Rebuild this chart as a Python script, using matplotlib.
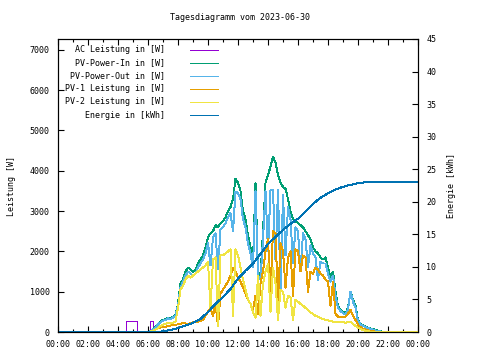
import numpy as np
import matplotlib
matplotlib.use("Agg")
import matplotlib.pyplot as plt

# 10-minute samples from 06:00 to 22:00
t_start, t_step = 6.0, 1 / 6

pv_in = [0, 20, 60, 120, 200, 260,
         300, 320, 360, 330, 380, 420,
         700, 1200, 1300, 1500, 1600, 1550,
         1500, 1550, 1700, 1800, 1900, 2100,
         2350, 2450, 2500, 2650, 2600, 2700,
         2750, 2850, 3000, 3100, 3300, 3800,
         3700, 3500, 3000, 2800, 2400, 2100,
         1750, 3700, 1500, 1400, 2500, 3700,
         3900, 4100, 4350, 4200, 3900, 3700,
         3600, 3550, 3300, 3000, 2800, 2750,
         2700, 2650, 2600, 2500, 2400, 2300,
         2100, 2000, 1950, 1850, 1800, 1850,
         1600, 1350, 1500, 1000, 640, 550,
         500, 460, 600, 1000, 800, 650,
         300, 200, 160, 130, 110, 90,
         70, 50, 30, 15, 5, 0,
         0]

pv_out = [0, 20, 60, 110, 190, 240,
          280, 300, 340, 310, 360, 400,
          650, 1100, 1250, 1400, 1500, 1450,
          1400, 1450, 1600, 1700, 1800, 1950,
          2200, 1650, 2350, 2450, 1550, 2550,
          2600, 2700, 2850, 2950, 2500, 3480,
          3450, 3300, 2800, 2600, 2200, 1950,
          1600, 3500, 1400, 1300, 2300, 3500,
          2000, 3520, 3520, 1800, 3520, 1050,
          3400, 1900, 3100, 2800, 1700, 2600,
          2500, 1500, 2450, 2300, 1600, 2150,
          1950, 1850, 1300, 1750, 1700, 1700,
          1450, 1250, 1400, 900, 600, 520,
          470, 430, 560, 1000, 750, 600,
          280, 190, 150, 120, 100, 80,
          60, 40, 25, 10, 5, 0,
          0]

pv1 = [0, 10, 30, 60, 90, 110,
       120, 130, 150, 160, 170, 180,
       190, 200, 220, 210, 200, 220,
       240, 250, 260, 280, 300, 400,
       500, 600, 400, 700, 150, 950,
       1050, 1150, 1250, 1400, 1600, 1500,
       1350, 1250, 1100, 950, 800, 700,
       550, 900, 450, 1200, 1500, 2000,
       2300, 1000, 2500, 2450, 700, 2200,
       2000, 1100, 1850, 2000, 900, 2050,
       2000, 1500, 1900, 1850, 1000, 1500,
       1450, 1600, 1550, 1450, 1400, 1300,
       1250, 650, 1250, 450, 380, 380,
       380, 380, 450, 550, 400, 300,
       180, 120, 80, 60, 40, 30,
       20, 10, 5, 0, 0, 0,
       0]

pv2 = [0, 10, 30, 60, 100, 150,
       180, 200, 220, 210, 230, 260,
       600, 1050, 1150, 1300, 1400, 1350,
       1400, 1450, 1500, 1550, 1600, 1650,
       1750, 600, 1800, 1850, 150, 1900,
       1900, 1950, 2000, 2050, 400, 2050,
       1900, 1600, 1300, 1050, 800, 700,
       500, 350, 1400, 400, 1200, 1500,
       1700, 500, 1600, 1200, 300, 1050,
       1000, 600, 900, 850, 300, 800,
       750, 700, 650, 600, 550, 480,
       450, 400, 380, 350, 320, 300,
       290, 270, 260, 250, 240, 240,
       240, 230, 240, 260, 200, 150,
       100, 70, 50, 30, 20, 10,
       5, 0, 0, 0, 0, 0,
       0]

ac_t = [0, 3.33, 3.33, 4.5, 4.5, 5.25, 5.25, 6.15, 6.15, 6.3, 6.3, 24]
ac_w = [0, 0, 25, 25, 270, 270, 0, 0, 270, 270, 0, 0]

energy_t = [0, 6.5, 7, 7.5, 8, 8.5, 9, 9.5, 10, 10.5, 11, 11.5, 12, 12.5, 13,
            13.5, 14, 14.5, 15, 15.5, 16, 16.5, 17, 17.5, 18, 18.5, 19, 19.5,
            20, 20.5, 21, 21.5, 24]
energy = [0, 0, 0.1, 0.3, 0.6, 1.0, 1.4, 2.0, 3.1, 4.3, 5.4, 6.6, 8.2, 9.4, 10.5,
          12.0, 13.5, 14.6, 15.7, 16.6, 17.4, 18.5, 19.7, 20.6, 21.3, 21.9, 22.3,
          22.6, 22.85, 23.0, 23.05, 23.1, 23.1]

labels = ["AC Leistung in [W]", "PV-Power-In in [W]", "PV-Power-Out in [W]",
          "PV-1 Leistung in [W]", "PV-2 Leistung in [W]", "Energie in [kWh]"]
colors = ["#9400d3", "#009e73", "#56b4e9", "#e69f00", "#f0e442", "#0072b2"]

plt.rcParams['font.family'] = ['DejaVu Sans Mono']
plt.rcParams['font.size'] = 6
plt.rcParams['lines.antialiased'] = False

t = t_start + np.arange(len(pv_in)) * t_step
t_full = np.concatenate([[0], t, [24]])


def pad(v):
    return np.concatenate([[0], v, [0]])


fig = plt.figure(figsize=(4.8, 3.6), dpi=100)
ax = fig.add_axes([58 / 480, 1 - 332 / 360, 360 / 480, 293 / 360])
ax2 = ax.twinx()
ax.set_zorder(ax2.get_zorder() + 1)
ax.patch.set_visible(False)

lw = 0.7
ax.plot(ac_t, ac_w, color=colors[0], lw=lw)
ax.plot(t_full, pad(pv_in), color=colors[1], lw=lw)
ax.plot(t_full, pad(pv_out), color=colors[2], lw=lw)
ax.plot(t_full, pad(pv1), color=colors[3], lw=lw)
ax.plot(t_full, pad(pv2), color=colors[4], lw=lw)
ax.plot(energy_t, np.array(energy) * 7270 / 45, color=colors[5], lw=lw)

ax.set_xlim(0, 24)
ax.set_ylim(0, 7270)
ax2.set_ylim(0, 45)

ax.set_xticks(np.arange(0, 25, 2))
ax.set_xticklabels(["%02d:00" % (h % 24) for h in range(0, 25, 2)])
ax.set_xticks(np.arange(0, 25, 1), minor=True)
ax.set_yticks(np.arange(0, 7001, 1000))
ax2.set_yticks(np.arange(0, 46, 5))

for a in (ax, ax2):
    a.tick_params(direction="in", length=4, width=0.8, pad=6, labelsize=6)
    a.tick_params(which="minor", direction="in", length=2, width=0.8)
    for s in a.spines.values():
        s.set_linewidth(0.8)
ax.tick_params(top=True, which="both")

ax.set_ylabel("Leistung [W]", labelpad=10)
ax2.set_ylabel("Energie [kWh]", labelpad=8)
fig.suptitle("Tagesdiagramm vom 2023-06-30", y=0.965, fontsize=6)

# legend in gnuplot style: right aligned text, sample line on the right
for i, (lab, c) in enumerate(zip(labels, colors)):
    y = 0.963 - i * 0.0445
    ax.text(0.297, y, lab, transform=ax.transAxes, ha="right", va="center")
    ax.plot([0.367, 0.445], [y, y], transform=ax.transAxes, color=c, lw=lw)

fig.savefig("out.png", dpi=100)
